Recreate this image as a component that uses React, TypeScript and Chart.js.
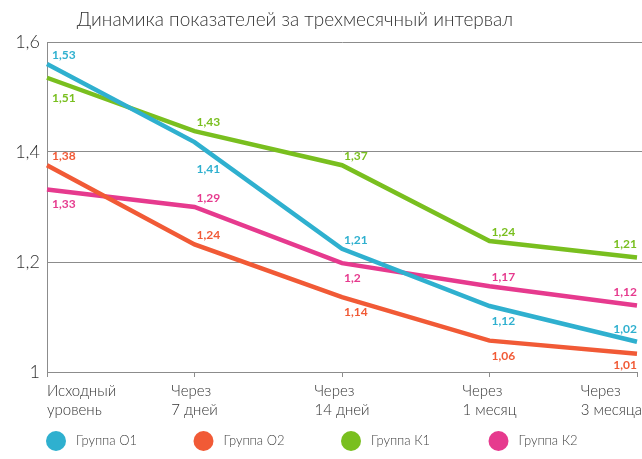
import React, { useEffect, useRef } from "react";
import { Chart, registerables } from "chart.js";

Chart.register(...registerables);

const TITLE = "Динамика показателей за трехмесячный интервал";
const categories: string[][] = [
  ["Исходный", "уровень"],
  ["Через", "7 дней"],
  ["Через", "14 дней"],
  ["Через", "1 месяц"],
  ["Через", "3 месяца"],
];
const seriesNames = ["Группа О1", "Группа О2", "Группа К1", "Группа К2"];
const seriesColors = ["#2fb0cf", "#f15a36", "#79bf1f", "#e63a8e"];

// plotted positions
const groupO1 = [1.56, 1.418, 1.224, 1.12, 1.055];
const groupO2 = [1.376, 1.232, 1.136, 1.057, 1.033];
const groupK1 = [1.535, 1.438, 1.376, 1.238, 1.208];
const groupK2 = [1.332, 1.3, 1.198, 1.156, 1.121];

// printed value labels
const labelsO1 = ["1,53", "1,41", "1,21", "1,12", "1,02"];
const labelsO2 = ["1,38", "1,24", "1,14", "1,06", "1,01"];
const labelsK1 = ["1,51", "1,43", "1,37", "1,24", "1,21"];
const labelsK2 = ["1,33", "1,29", "1,2", "1,17", "1,12"];

// label placement: a = above the line, b = below, bb = further below
const placeO1 = ["a", "bb", "a", "b", "a"];
const placeO2 = ["a", "a", "b", "b", "b"];
const placeK1 = ["b2", "a", "a", "a", "a"];
const placeK2 = ["b", "a", "b", "a", "a"];

const yMin = 1;
const yMax = 1.6;
const yStep = 0.2;

const seriesValues = [groupO1, groupO2, groupK1, groupK2];
const seriesLabels = [labelsO1, labelsO2, labelsK1, labelsK2];
const seriesPlaces = [placeO1, placeO2, placeK1, placeK2];

const FONT = "Lato, 'Open Sans', sans-serif";
const GRID = "#8c8c8c";

const offsetFor = (p: string, last: boolean) => {
  if (p === "a") return last ? -13 : -9;
  if (p === "bb") return 27;
  if (p === "b2") return 20;
  return last ? 11 : 15;
};

const alignPx = (v: number) => Math.round(v - 0.5) + 0.5;

const decorPlugin = {
  id: "decor",
  afterDraw(chart: any) {
    const ctx = chart.ctx as CanvasRenderingContext2D;
    const xs = chart.scales.x;
    const ys = chart.scales.y;
    const area = chart.chartArea;
    const W = chart.width;
    ctx.save();

    // extend gridlines to the right edge
    ctx.strokeStyle = GRID;
    ctx.lineWidth = 1;
    ys.ticks.forEach((t: any) => {
      if (t.value <= yMin) return;
      const y = alignPx(ys.getPixelForValue(t.value));
      ctx.beginPath();
      ctx.moveTo(area.right, y);
      ctx.lineTo(W, y);
      ctx.stroke();
    });

    // title
    ctx.fillStyle = "#333";
    ctx.font = `300 19px ${FONT}`;
    ctx.textAlign = "center";
    ctx.textBaseline = "middle";
    ctx.fillText(TITLE, 295, 20);

    // x labels
    ctx.font = `300 15px ${FONT}`;
    ctx.textAlign = "left";
    categories.forEach((lines, i) => {
      const x = xs.getPixelForValue(i);
      const w = Math.max(...lines.map((l) => ctx.measureText(l).width));
      let left = x - w / 2;
      if (left < area.left) left = area.left;
      if (left + w > W) left = W - w;
      lines.forEach((l, j) => ctx.fillText(l, left, 391 + j * 19));
    });

    // value labels
    ctx.font = `bold 12px ${FONT}`;
    seriesValues.forEach((_, s) => {
      const meta = chart.getDatasetMeta(s);
      ctx.fillStyle = seriesColors[s];
      meta.data.forEach((pt: any, i: number) => {
        const last = i === meta.data.length - 1;
        const dy = offsetFor(seriesPlaces[s][i], last);
        ctx.textAlign = last ? "right" : "left";
        const dx = last ? 0 : i === 0 ? 5 : 2;
        ctx.fillText(seriesLabels[s][i], pt.x + dx, pt.y + dy);
      });
    });

    // legend
    ctx.font = `300 13px ${FONT}`;
    ctx.textAlign = "left";
    seriesNames.forEach((name, i) => {
      const x = xs.getPixelForValue(i) + 9;
      ctx.fillStyle = seriesColors[i];
      ctx.beginPath();
      ctx.arc(x, 441, 10, 0, Math.PI * 2);
      ctx.fill();
      ctx.fillStyle = "#444";
      ctx.fillText(name, x + 20, 441);
    });

    ctx.restore();
  },
};

export default function App() {
  const ref = useRef<HTMLCanvasElement | null>(null);
  useEffect(() => {
    if (!ref.current) return;
    const chart = new Chart(ref.current, {
      type: "line",
      data: {
        labels: categories.map((c) => c.join(" ")),
        datasets: seriesValues.map((vals, i) => ({
          label: seriesNames[i],
          data: vals,
          borderColor: seriesColors[i],
          backgroundColor: seriesColors[i],
          borderWidth: 4.5,
          pointRadius: 0,
          tension: 0,
          fill: false,
        })),
      },
      options: {
        responsive: false,
        animation: false,
        devicePixelRatio: 1,
        layout: { padding: { top: 42, bottom: 87, left: 0, right: 5 } },
        plugins: {
          legend: { display: false },
          title: { display: false },
          tooltip: { enabled: false },
        },
        scales: {
          x: {
            type: "category",
            offset: false,
            ticks: { display: false },
            grid: {
              display: true,
              drawOnChartArea: false,
              drawTicks: true,
              tickLength: 5,
              color: GRID,
            },
            border: { color: GRID, width: 1 },
            afterFit: (s: any) => {
              s.height = 0;
            },
          },
          y: {
            min: yMin,
            max: yMax,
            ticks: {
              stepSize: yStep,
              padding: 7,
              color: "#333",
              font: { family: FONT, size: 18, weight: "300" as any },
              callback: (v: any) => String(+Number(v).toFixed(1)).replace(".", ","),
            },
            grid: { color: GRID, drawTicks: false, lineWidth: 1 },
            border: { color: GRID, width: 1 },
            afterFit: (s: any) => {
              s.width = 47;
            },
          },
        },
      },
      plugins: [decorPlugin],
    });
    return () => chart.destroy();
  }, []);
  return (
    <div style={{ position: "absolute", left: 0, top: 0, width: 642, height: 459, background: "#fff" }}>
      <canvas ref={ref} width={642} height={459} style={{ display: "block" }} />
    </div>
  );
}
